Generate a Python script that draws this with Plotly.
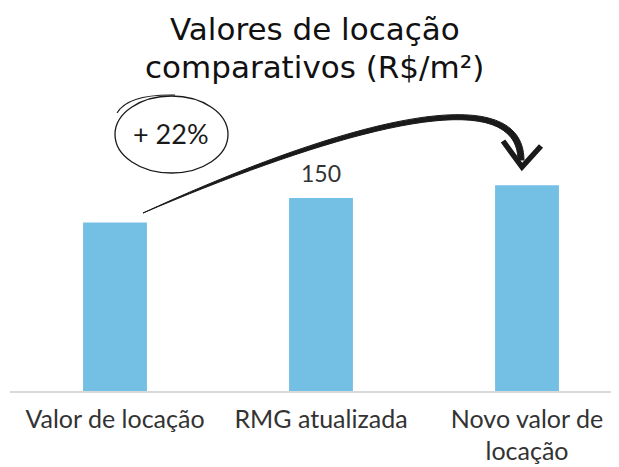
import plotly.graph_objects as go

categories = ["Valor de locação", "RMG atualizada", "Novo valor de<br>locação"]
values = [131, 150, 160]
label_values = [None, 150, None]
title_lines = ["Valores de locação", "comparativos (R$/m²)"]
growth_label = "+ 22%"

W, H = 619, 467
OFF = 8                         # page body margin offset
ML, MR, MT = 10 - OFF, 12, 0
BASE_PAGE = 391
MB = H - (BASE_PAGE - OFF)
X0PX, DXPX = 115, 206          # page pixel centre of first bar, spacing
PXPERUNIT = 193 / 150.0

xr = [(ML + OFF - X0PX) / DXPX, (W - MR + OFF - X0PX) / DXPX]
yr = [0, (BASE_PAGE - OFF) / PXPERUNIT]

def X(px):
    return (px - X0PX) / DXPX

def Y(py):
    return (BASE_PAGE - py) / PXPERUNIT

def P(pt):
    return "{} {}".format(X(pt[0]), Y(pt[1]))

fig = go.Figure()
fig.add_trace(go.Bar(
    x=list(range(len(categories))), y=values, width=0.31,
    marker=dict(color="#74C0E4", line=dict(width=0)),
    hoverinfo="skip",
))

for i, v in enumerate(label_values):
    if v is not None:
        fig.add_annotation(x=i, y=values[i], xref="x", yref="y", text="%d" % v,
                           showarrow=False, yanchor="bottom", yshift=9,
                           font=dict(family="Lato", size=23, color="#333333"))

# brush-like arrow stroke (filled shape)
p0 = (143, 213)
p1u, p2u, p3u = (331, 126), (523, 71), (524, 160)
p1l, p2l, p3l = (329, 134), (517, 78), (518, 160)
stroke = "M {} C {}, {}, {} L {} C {}, {}, {} Z".format(
    P(p0), P(p1u), P(p2u), P(p3u), P(p3l), P(p2l), P(p1l), P(p0))
fig.add_shape(type="path", path=stroke, xref="x", yref="y",
              fillcolor="#1a1a1a", line=dict(color="#1a1a1a", width=1))
head = "M {} L {} L {}".format(P((503, 141)), P((522, 167)), P((541, 146)))
fig.add_shape(type="path", path=head, xref="x", yref="y",
              line=dict(color="#1a1a1a", width=5.5))

# hand-drawn ellipse
fig.add_shape(type="circle", xref="x", yref="y",
              x0=X(115), x1=X(228), y0=Y(173), y1=Y(96),
              line=dict(color="#1a1a1a", width=1.3))
arc = "M {} Q {}, {}".format(P((117, 113)), P((128, 94)), P((175, 95)))
fig.add_shape(type="path", path=arc, xref="x", yref="y",
              line=dict(color="#1a1a1a", width=1.1))

fig.add_annotation(x=X(171), y=Y(133), xref="x", yref="y", text=growth_label,
                   showarrow=False, font=dict(family="Lato", size=27, color="#1a1a1a"))

# title lines
for i, t in enumerate(title_lines):
    fig.add_annotation(x=(320 - OFF) / W, xref="paper", y=(H - (26 + 46 * i)) / H, yref="paper",
                       yanchor="middle", text=t, showarrow=False,
                       font=dict(family="DejaVu Sans", size=31, color="#111111"))

fig.update_layout(
    width=W, height=H, margin=dict(l=ML, r=MR, t=MT, b=MB),
    paper_bgcolor="white", plot_bgcolor="white", showlegend=False,
    xaxis=dict(range=xr, tickvals=list(range(len(categories))), ticktext=categories,
               showgrid=False, zeroline=False, showline=True, linecolor="#d9d9d9",
               linewidth=1.5, ticks="", ticklabelstandoff=5,
               tickfont=dict(family="Lato", size=25, color="#333333")),
    yaxis=dict(range=yr, visible=False, showgrid=False, zeroline=False),
)
fig.write_html("out.html")
